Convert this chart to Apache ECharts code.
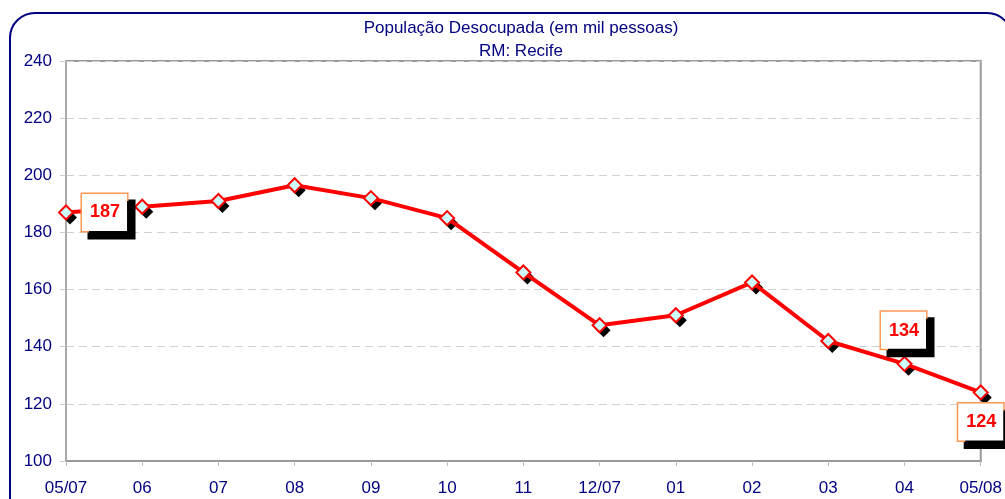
<!DOCTYPE html>
<html lang="pt">
<head>
    <meta charset="utf-8">
    <title>População Desocupada - RM Recife</title>
    <style>
        html, body { margin: 0; padding: 0; background: #fff; }
        #chart { width: 1005px; height: 499px; }
    </style>
</head>
<body>
    <div id="chart"></div>
    <script src="https://cdn.jsdelivr.net/npm/echarts@6/dist/echarts.min.js"></script>
    <script type="text/javascript">
        // meses (05/07 a 05/08)
        var meses = ["05/07", "06", "07", "08", "09", "10", "11", "12/07", "01", "02", "03", "04", "05/08"];
        // populacao desocupada, mil pessoas
        var valores = [187, 189, 191, 196.5, 192, 185, 166, 147.5, 151, 162.5, 142, 134, 124];
        // pontos com rotulo
        var rotulos = { 0: "right", 11: "top", 12: "bottom" };

        var navy = "#000080";
        var fonte = "Liberation Sans, Arial";
        var myChart = echarts.init(document.getElementById("chart"));

        var dados = valores.map(function (v, i) {
            var item = { value: v };
            if (rotulos[i]) {
                var lbl = {
                    show: true,
                    position: rotulos[i],
                    formatter: function (p) { return Math.round(p.value); }
                };
                if (i === 0) lbl.distance = 8;
                if (i === 11) { lbl.distance = 7; lbl.offset = [-1, 0]; }
                if (i === 12) { lbl.distance = 3; }
                item.label = lbl;
            }
            return item;
        });

        var option = {
            backgroundColor: "#fff",
            animation: false,
            title: {
                text: "População Desocupada (em mil pessoas)\nRM: Recife",
                left: 516,
                top: 12,
                textAlign: "center",
                textStyle: {
                    color: navy,
                    fontSize: 17,
                    fontWeight: "normal",
                    fontFamily: fonte,
                    lineHeight: 23
                }
            },
            graphic: [{
                type: "rect",
                shape: { x: 10, y: 13, width: 1002, height: 520, r: 25 },
                style: { fill: null, stroke: navy, lineWidth: 2 },
                silent: true,
                z: 0
            }],
            grid: {
                left: 66,
                right: 19,
                top: 61,
                bottom: 38,
                show: true,
                borderColor: "#999",
                borderWidth: 2,
                backgroundColor: "transparent"
            },
            xAxis: {
                type: "category",
                boundaryGap: false,
                data: meses,
                axisLine: { lineStyle: { color: "#999", width: 2 } },
                axisTick: { show: true, length: 5, lineStyle: { color: "#bbb" } },
                axisLabel: {
                    color: navy,
                    fontSize: 17,
                    fontFamily: fonte,
                    margin: 19,
                    interval: 0
                }
            },
            yAxis: {
                type: "value",
                min: 100,
                max: 240,
                interval: 20,
                axisLine: { show: true, lineStyle: { color: "#aaa", width: 2 } },
                axisTick: { show: true, length: 6, lineStyle: { color: "#ccc" } },
                axisLabel: {
                    color: navy,
                    fontSize: 17,
                    fontFamily: fonte,
                    margin: 14
                },
                splitLine: { lineStyle: { color: "#d0d0d0", type: [8, 5] } }
            },
            series: [{
                // sombra preta dos marcadores
                type: "line",
                data: valores,
                symbol: "diamond",
                symbolSize: 14,
                symbolOffset: [4, 5],
                showSymbol: true,
                lineStyle: { opacity: 0 },
                itemStyle: { color: "#000" },
                emphasis: { disabled: true },
                silent: true,
                z: 2
            }, {
                type: "line",
                data: dados,
                symbol: "diamond",
                symbolSize: 14,
                lineStyle: { color: "#ff0000", width: 4 },
                itemStyle: {
                    color: "#ccffff",
                    borderColor: "#ff0000",
                    borderWidth: 2
                },
                label: {
                    color: "#ff0000",
                    fontSize: 18,
                    fontWeight: "bold",
                    fontFamily: fonte,
                    backgroundColor: "#fff",
                    borderColor: "#ff9955",
                    borderWidth: 1.5,
                    padding: [10, 7, 9, 8],
                    shadowColor: "#000",
                    shadowBlur: 0,
                    shadowOffsetX: 7,
                    shadowOffsetY: 7
                },
                emphasis: { disabled: true },
                z: 3
            }]
        };
        myChart.setOption(option);
    </script>
</body>
</html>
